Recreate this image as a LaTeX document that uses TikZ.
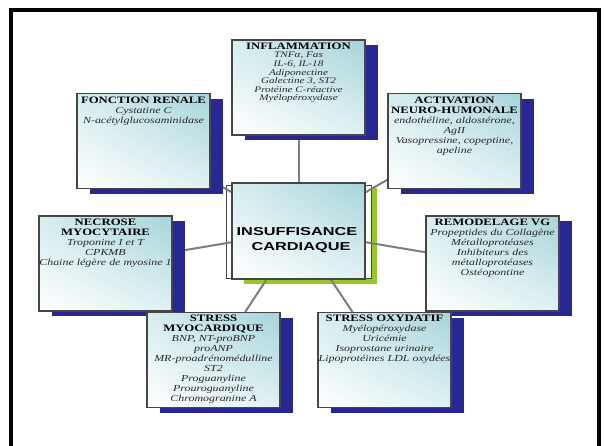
\documentclass[tikz,border=0pt]{standalone}
\usepackage{fontspec}
\usetikzlibrary{shadows,shadings}
\newfontfamily\panelfont[FakeStretch=1.3]{Liberation Serif}
\newfontfamily\hubfont[FakeStretch=1.42]{Liberation Sans}
\definecolor{navyshadow}{RGB}{40,40,148}
\definecolor{limeshadow}{RGB}{150,200,40}
\definecolor{tealA}{RGB}{165,212,218}
\definecolor{tealB}{RGB}{205,232,235}
\definecolor{edgegray}{RGB}{70,70,70}
\definecolor{linkgray}{RGB}{125,125,125}
\definecolor{itemgray}{RGB}{40,40,40}
\newcommand\paneltitle[1]{{\upshape\bfseries\color{black}\fontsize{9.8}{10}\selectfont #1}}
\pgfdeclarelayer{back}
\pgfdeclarelayer{links}
\pgfsetlayers{back,links,main}
\begin{document}
\begin{tikzpicture}[x=1pt,y=-1pt,
  boxshade/.style={upper left=tealB!80!white, upper right=tealA, lower left=white, lower right=tealB!60!white},
  panel/.style={boxshade, draw=edgegray, line width=1.1pt, minimum width=133pt,
    minimum height=95pt, inner sep=0pt,
    drop shadow={shadow xshift=12.5pt, shadow yshift=-5pt, fill=navyshadow, opacity=1}},
  panelcopy/.style={align=center, inner sep=0pt, text=itemgray,
    font=\panelfont\itshape\fontsize{9.2}{10}\selectfont},
  hubbox/.style={boxshade, draw=edgegray, line width=1.1pt, minimum width=133pt,
    minimum height=96pt, inner sep=0pt},
  hubtext/.style={align=center, inner sep=0pt, font=\hubfont\bfseries\fontsize{11.5}{15}\selectfont},
  link/.style={draw=linkgray, line width=2pt}]
\useasboundingbox (0,0) rectangle (605,445);

% outer frame, open at the bottom
\draw[line width=4pt] (11,450) -- (11,10) -- (598.5,10) -- (598.5,450);

% central block: green shadow and back sheet
\begin{pgfonlayer}{back}
  \node[fill=limeshadow, minimum width=133pt, minimum height=96pt, inner sep=0pt]
    (hub-sh) at (310.5,235.5) {};
  \node[fill=white, draw=edgegray, line width=0.8pt, minimum width=145pt,
    minimum height=93pt, inner sep=0pt] (hub-back) at (298.5,231.5) {};
\end{pgfonlayer}
\node[hubbox] (hub) at (298.5,231) {};
\node[hubtext] (hub-t) at (297,240.5) {INSUFFISANCE\\\hspace*{8pt}CARDIAQUE};

% surrounding panels
\node[panel] (infl) at (298.5,87.5) {};
\node[panelcopy, font=\panelfont\itshape\fontsize{8.6}{8.6}\selectfont, below=3.2pt] (infl-t) at (infl.north)
  {\paneltitle{INFLAMMATION}\\TNFα, Fas\\IL-6, IL-18\\Adiponectine\\Galectine 3, ST2\\Protéine C-réactive\\Myélopéroxydase};

\node[panel] (renal) at (143.5,141) {};
\node[panelcopy, below=3.5pt] (renal-t) at (renal.north)
  {\paneltitle{FONCTION RENALE}\\Cystatine C\\N-acétylglucosaminidase};

\node[panel] (neuro) at (454.5,141) {};
\node[panelcopy, below=3.5pt] (neuro-t) at (neuro.north)
  {\paneltitle{ACTIVATION}\\\paneltitle{NEURO-HUMONALE}\\endothéline, aldostérone,\\AgII\\Vasopressine, copeptine,\\apeline};

\node[panel] (necro) at (105.5,263.5) {};
\node[panelcopy, below=3.5pt] (necro-t) at (necro.north)
  {\paneltitle{NECROSE}\\\paneltitle{MYOCYTAIRE}\\Troponine I et T\\CPKMB\\Chaine légère de myosine 1};

\node[panel] (remod) at (492.5,263.5) {};
\node[panelcopy, below=3pt] (remod-t) at (remod.north)
  {\paneltitle{REMODELAGE VG}\\Propeptides du Collagène\\Métalloprotéases\\Inhibiteurs des\\métalloprotéases\\Ostéopontine};

\node[panel] (myo) at (213.5,360) {};
\node[panelcopy, below=2.8pt] (myo-t) at (myo.north)
  {\paneltitle{STRESS}\\\paneltitle{MYOCARDIQUE}\\BNP, NT-proBNP\\proANP\\MR-proadrénomédulline\\ST2\\Proguanyline\\Prouroguanyline\\Chromogranine A};

\node[panel] (oxy) at (384.5,360) {};
\node[panelcopy, below=2.8pt] (oxy-t) at (oxy.north)
  {\paneltitle{STRESS OXYDATIF}\\Myélopéroxydase\\Uricémie\\Isoprostane urinaire\\Lipoprotéines LDL oxydées};

% spokes to the central block
\begin{pgfonlayer}{links}
  \foreach \p in {infl,renal,neuro,necro,remod,myo,oxy}
    \draw[link] (\p) -- (hub);
\end{pgfonlayer}
\end{tikzpicture}
\end{document}
